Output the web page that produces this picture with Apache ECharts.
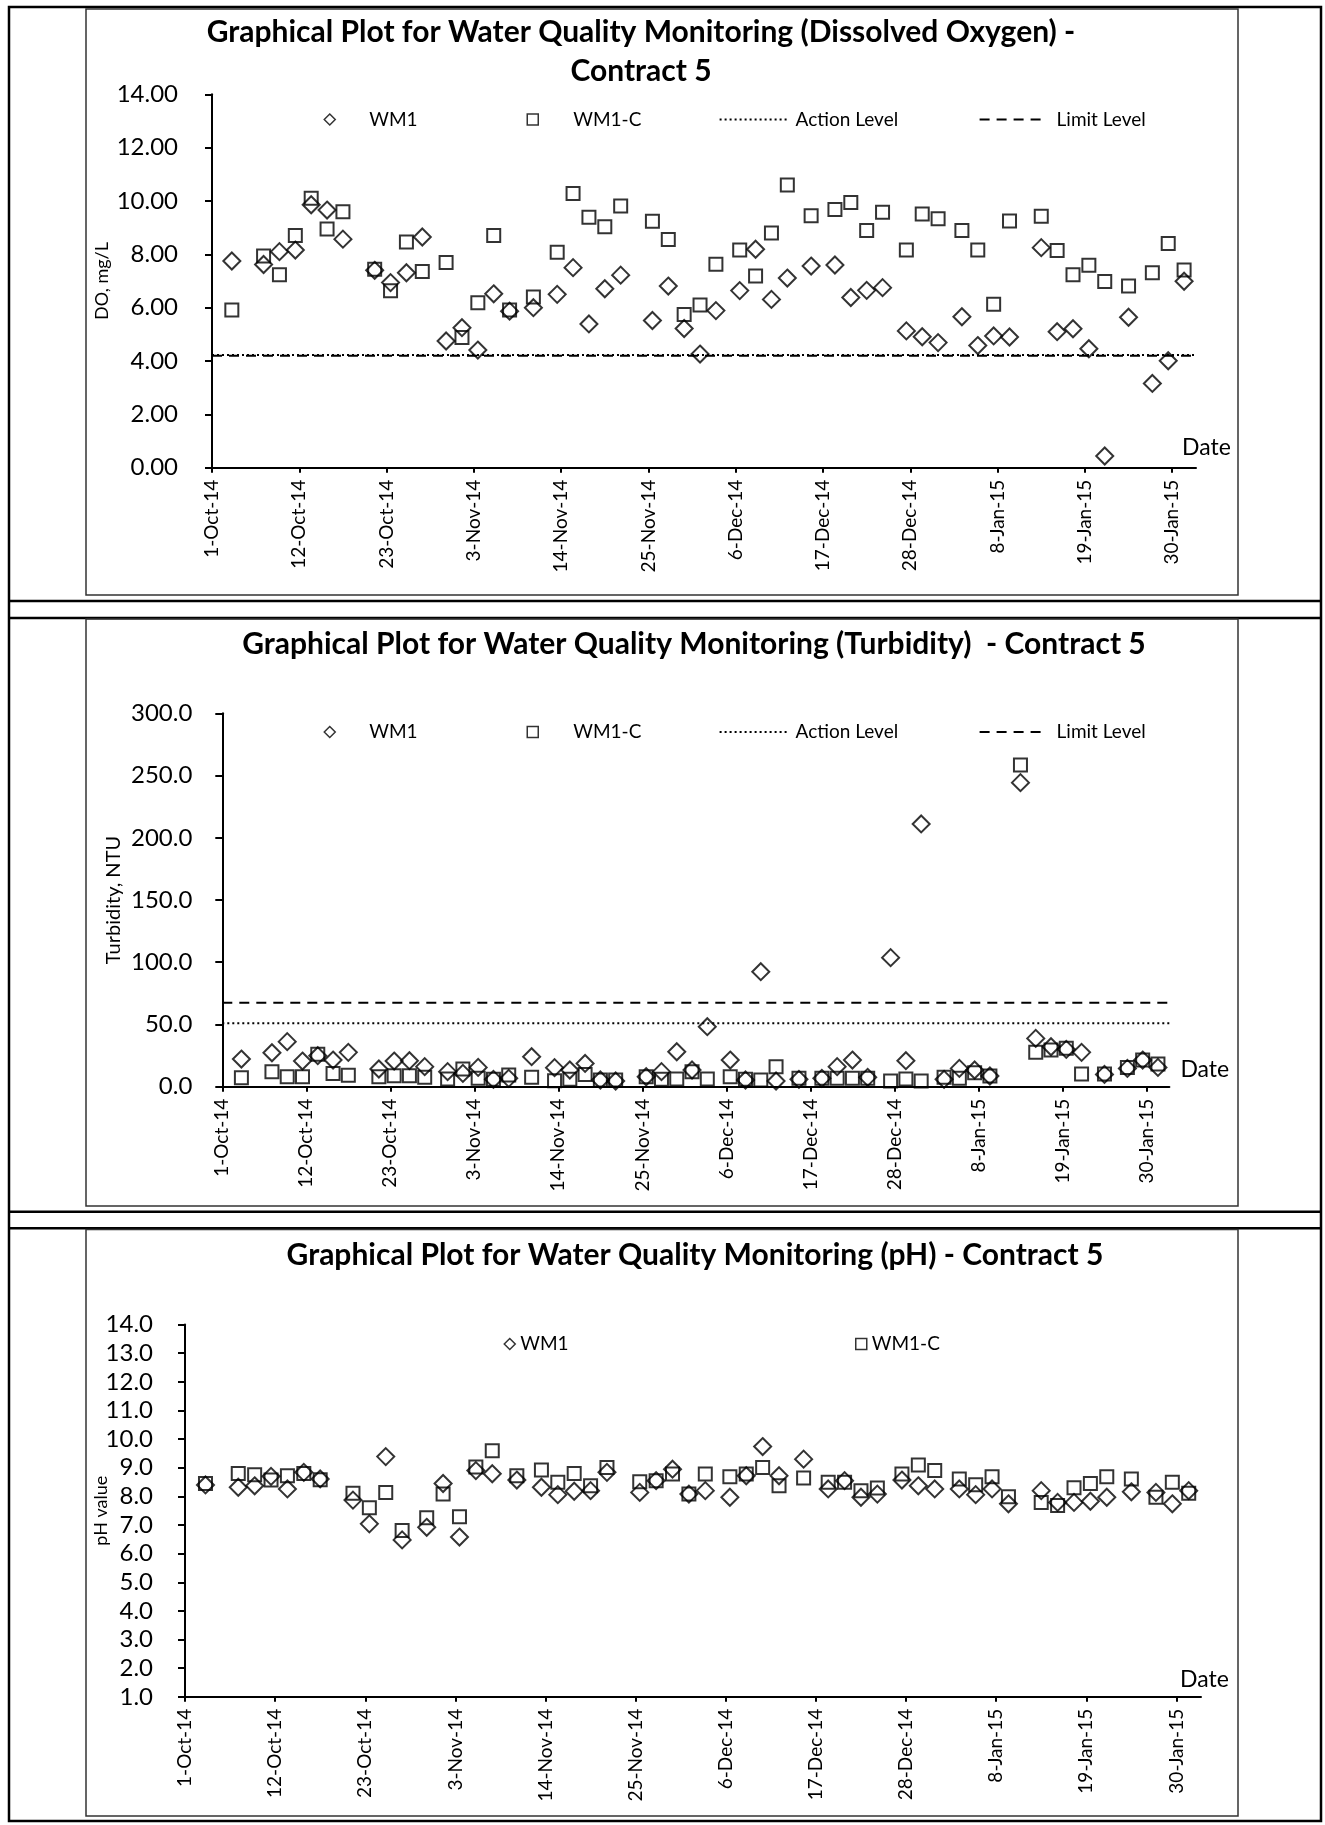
<!DOCTYPE html>
<html>
<head>
<meta charset="utf-8">
<script src="https://cdn.jsdelivr.net/npm/echarts@6/dist/echarts.min.js"></script>
<style>
html,body{margin:0;padding:0;background:#fff;}
#chart{width:1325px;height:1825px;}
</style>
</head>
<body>
<div id="chart"></div>
<script>
// ---------------- DATA ----------------
const sampleDates = ['2014-10-03','2014-10-07','2014-10-09','2014-10-11','2014-10-13','2014-10-15','2014-10-17','2014-10-21','2014-10-23','2014-10-25','2014-10-27','2014-10-30','2014-11-01','2014-11-03','2014-11-05','2014-11-07','2014-11-10','2014-11-13','2014-11-15','2014-11-17','2014-11-19','2014-11-21','2014-11-25','2014-11-27','2014-11-29','2014-12-01','2014-12-03','2014-12-06','2014-12-08','2014-12-10','2014-12-12','2014-12-15','2014-12-18','2014-12-20','2014-12-22','2014-12-24','2014-12-27','2014-12-29','2014-12-31','2015-01-03','2015-01-05','2015-01-07','2015-01-09','2015-01-13','2015-01-15','2015-01-17','2015-01-19','2015-01-21','2015-01-24','2015-01-27','2015-01-29','2015-01-31'];

const doWM1  = [7.75,7.62,8.10,8.16,9.86,9.66,8.57,7.40,6.94,7.31,8.65,4.75,5.25,4.41,6.52,5.87,6.00,6.50,7.50,5.39,6.71,7.22,5.52,6.81,5.22,4.26,5.89,6.64,8.19,6.31,7.11,7.56,7.60,6.38,6.65,6.75,5.13,4.91,4.69,5.66,4.58,4.94,4.90,8.25,5.10,5.21,4.46,0.44,5.64,3.16,4.01,6.99];
const doWM1C = [5.91,7.94,7.23,8.71,10.10,8.95,9.60,7.44,6.63,8.46,7.36,7.69,4.88,6.18,8.71,5.91,6.40,8.08,10.28,9.39,9.03,9.81,9.24,8.56,5.74,6.10,7.63,8.16,7.19,8.80,10.60,9.45,9.68,9.94,8.89,9.58,8.16,9.51,9.33,8.89,8.16,6.13,9.25,9.43,8.14,7.23,7.59,6.98,6.81,7.31,8.41,7.41];
const doActionLevel = 4.23;
const doLimitLevel  = 4.20;

const turbWM1  = [22.2,27.3,36.2,20.6,24.9,21.4,27.6,14.2,20.6,20.9,16.1,12.1,10.7,15.5,5.9,6.7,24.1,15.3,13.4,18.7,5.4,4.6,8.0,12.1,28.1,13.4,48.2,21.4,5.4,92.4,4.6,5.9,6.7,16.1,21.4,7.5,103.7,20.9,211.1,5.9,14.7,13.4,8.6,244.3,38.8,32.1,30.0,27.6,9.9,14.7,21.4,15.5];
const turbWM1C = [7.2,12.1,8.0,8.0,26.0,10.7,9.1,8.0,8.8,8.8,7.5,6.2,14.2,6.7,5.9,9.4,7.5,4.8,5.9,9.9,5.4,5.4,8.0,5.9,6.2,12.1,6.2,8.0,5.9,5.4,16.1,6.7,6.7,6.7,6.7,6.7,4.6,6.2,4.6,7.5,6.7,11.3,8.6,258.5,27.6,29.5,30.8,10.2,10.2,15.5,21.4,18.2];
const turbActionLevel = 51.0;
const turbLimitLevel  = 67.5;

const phWM1  = [8.40,8.32,8.37,8.70,8.26,8.84,8.61,7.87,7.04,9.39,6.48,6.92,8.45,6.58,8.90,8.79,8.57,8.32,8.06,8.18,8.20,8.84,8.14,8.55,8.95,8.08,8.20,7.97,8.72,9.74,8.72,9.30,8.26,8.55,7.97,8.08,8.57,8.37,8.26,8.26,8.06,8.26,7.74,8.20,7.79,7.79,7.83,7.97,8.16,8.14,7.74,8.20];
const phWM1C = [8.45,8.80,8.76,8.57,8.72,8.80,8.58,8.11,7.60,8.14,6.81,7.25,8.08,7.29,9.03,9.59,8.72,8.92,8.49,8.80,8.37,9.01,8.51,8.55,8.78,8.08,8.78,8.69,8.78,9.01,8.37,8.64,8.49,8.49,8.20,8.29,8.78,9.10,8.90,8.61,8.41,8.69,7.99,7.79,7.68,8.30,8.45,8.69,8.61,7.97,8.49,8.11];

const tickDates = ['2014-10-01','2014-10-12','2014-10-23','2014-11-03','2014-11-14','2014-11-25','2014-12-06','2014-12-17','2014-12-28','2015-01-08','2015-01-19','2015-01-30'];
const axisStartDate = '2014-10-01';
const axisEndDate   = '2015-02-02';

const titles = [
  'Graphical Plot for Water Quality Monitoring (Dissolved Oxygen) -\nContract 5',
  'Graphical Plot for Water Quality Monitoring (Turbidity)  - Contract 5',
  'Graphical Plot for Water Quality Monitoring (pH) - Contract 5'
];
const yNames = ['DO, mg/L', 'Turbidity, NTU', 'pH value'];

// ---------------- HELPERS ----------------
const MON = ['Jan','Feb','Mar','Apr','May','Jun','Jul','Aug','Sep','Oct','Nov','Dec'];
const BASE = Date.UTC(2014, 9, 1);
function dayOf(s){ const p = s.split('-').map(Number); return (Date.UTC(p[0], p[1]-1, p[2]) - BASE) / 86400000; }
function fmtDay(v){ const d = new Date(BASE + Math.round(v) * 86400000); return d.getUTCDate() + '-' + MON[d.getUTCMonth()] + '-' + String(d.getUTCFullYear()).slice(2); }
// points sit in the middle of their day (date axis, "between tick marks")
const DAY_CENTER = 0.5;
const xs = sampleDates.map(d => dayOf(d) + DAY_CENTER);
const tickDays = tickDates.map(dayOf);
const xMin = dayOf(axisStartDate), xMax = dayOf(axisEndDate);
const pts = vals => vals.map((v, i) => [xs[i], v]);
const FONT = 'Lato';

const grids = [
  {left: 212,   top: 94.3,  width: 984,  height: 373.4},
  {left: 222.3, top: 713.3, width: 947.1, height: 373.4},
  {left: 185,   top: 1324.6, width: 1016, height: 372.2}
];
const yCfg = [
  {min: 0, max: 14,  interval: 2,  dec: 2, margin: 34, nameGap: 101, nameSize: 18},
  {min: 0, max: 300, interval: 50, dec: 1, margin: 30, nameGap: 99,  nameSize: 20},
  {min: 1, max: 14,  interval: 1,  dec: 1, margin: 32, nameGap: 75,  nameSize: 18}
];
const dateName = [{gap: -14, pad: 9}, {gap: 11, pad: 6}, {gap: -21, pad: 6}];

const xAxes = grids.map((g, i) => ({
  type: 'value', gridIndex: i, min: xMin, max: xMax,
  name: 'Date', nameLocation: 'end', nameGap: dateName[i].gap, nameMoveOverlap: false,
  nameTextStyle: {fontFamily: FONT, fontSize: 23, color: '#000', align: 'left', verticalAlign: 'bottom', padding: [0,0,dateName[i].pad,0]},
  axisLine: {show: true, onZero: false, lineStyle: {color: '#000', width: 2}},
  axisTick: {show: true, length: 5, customValues: tickDays, lineStyle: {color: '#000', width: 2}},
  axisLabel: {rotate: 90, margin: 12, customValues: tickDays, formatter: fmtDay, fontFamily: FONT, fontSize: 19, color: '#000'},
  splitLine: {show: false}
}));
const yAxes = yCfg.map((c, i) => ({
  type: 'value', gridIndex: i, min: c.min, max: c.max, interval: c.interval,
  name: yNames[i], nameLocation: 'middle', nameRotate: 90, nameGap: c.nameGap, nameMoveOverlap: false,
  nameTextStyle: {fontFamily: FONT, fontSize: c.nameSize, color: '#000'},
  axisLine: {show: true, onZero: false, lineStyle: {color: '#000', width: 2}},
  axisTick: {show: true, length: 7, lineStyle: {color: '#000', width: 2}},
  axisLabel: {margin: c.margin, formatter: v => v.toFixed(c.dec), fontFamily: FONT, fontSize: 24, color: '#000'},
  splitLine: {show: false}
}));

const markerStyle = {color: 'transparent', borderColor: '#000', borderWidth: 2};
function scatter(name, idx, vals, sym, size){
  return {type: 'scatter', name, xAxisIndex: idx, yAxisIndex: idx, data: pts(vals),
    symbol: sym, symbolSize: size, itemStyle: markerStyle, z: 3};
}
function level(name, idx, val, dash){
  return {type: 'line', name, xAxisIndex: idx, yAxisIndex: idx, data: [[xMin, val], [xMax, val]],
    symbol: 'none', lineStyle: {color: '#000', width: 2, type: dash}, z: 2, silent: true};
}
const DOT = [2, 3], DASH = [10, 7];

const series = [
  level('Action Level', 0, doActionLevel, DOT),
  level('Limit Level', 0, doLimitLevel, DASH),
  scatter('WM1', 0, doWM1, 'diamond', 17),
  scatter('WM1-C', 0, doWM1C, 'rect', 13),
  level('Action Level', 1, turbActionLevel, DOT),
  level('Limit Level', 1, turbLimitLevel, DASH),
  scatter('WM1', 1, turbWM1, 'diamond', 17),
  scatter('WM1-C', 1, turbWM1C, 'rect', 13),
  scatter('WM1', 2, phWM1, 'diamond', 17),
  scatter('WM1-C', 2, phWM1C, 'rect', 13)
];

function lg(name, icon, left, top, w, h, padLeft){
  const o = {data: [icon ? {name, icon} : name], left, top, itemWidth: w, itemHeight: h, itemGap: 0,
    selectedMode: false, padding: 0,
    textStyle: {fontFamily: FONT, fontSize: 19, color: '#000', padding: [0,0,0,padLeft]}};
  if (icon) {
    o.itemStyle = {color: 'transparent', borderColor: '#000', borderWidth: 1.5};
  } else {
    o.itemStyle = {color: 'transparent', borderColor: 'transparent', borderWidth: 0, opacity: 0};
    o.lineStyle = {color: '#000', width: 2, type: name === 'Action Level' ? DOT : DASH};
  }
  return o;
}
const legendRows = [115.5, 728];
const legends = [];
legendRows.forEach(cy => {
  legends.push(lg('WM1', 'diamond', 323.5, cy - 5.5, 11, 11, 29));
  legends.push(lg('WM1-C', 'rect', 526.5, cy - 5.5, 11, 11, 30));
  legends.push(lg('Action Level', null, 718.6, cy - 5.5, 68, 11, 3));
  legends.push(lg('Limit Level', null, 978.6, cy - 5.5, 64, 11, 8));
});
legends.push(lg('WM1', 'diamond', 503.5, 1340 - 5.5, 11, 11, 0));
legends.push(lg('WM1-C', 'rect', 855, 1340 - 5.5, 11, 11, 0));

// frames and titles
const SEP = {stroke: '#000', lineWidth: 2.5};
const FR = {fill: 'none', stroke: '#333', lineWidth: 1.5};
const TF = 'bold 30px Lato';
const graphic = [
  {type: 'rect', shape: {x: 9, y: 7, width: 1312, height: 1814}, style: {fill: 'none', stroke: '#000', lineWidth: 2.5}, silent: true},
  {type: 'line', shape: {x1: 9, y1: 601, x2: 1321, y2: 601}, style: SEP, silent: true},
  {type: 'line', shape: {x1: 9, y1: 618, x2: 1321, y2: 618}, style: SEP, silent: true},
  {type: 'line', shape: {x1: 9, y1: 1211.7, x2: 1321, y2: 1211.7}, style: SEP, silent: true},
  {type: 'line', shape: {x1: 9, y1: 1228.3, x2: 1321, y2: 1228.3}, style: SEP, silent: true},
  {type: 'rect', shape: {x: 86, y: 9, width: 1152, height: 586}, style: FR, silent: true},
  {type: 'rect', shape: {x: 86, y: 619, width: 1152, height: 587}, style: FR, silent: true},
  {type: 'rect', shape: {x: 86, y: 1229.5, width: 1152, height: 586.5}, style: FR, silent: true},
  {type: 'text', x: 641, y: 52, style: {text: titles[0], font: TF, fill: '#000', align: 'center', verticalAlign: 'middle', lineHeight: 38.4}, silent: true},
  {type: 'text', x: 694, y: 644, style: {text: titles[1], font: TF, fill: '#000', align: 'center', verticalAlign: 'middle'}, silent: true},
  {type: 'text', x: 695, y: 1255, style: {text: titles[2], font: TF, fill: '#000', align: 'center', verticalAlign: 'middle'}, silent: true}
];

const chart = echarts.init(document.getElementById('chart'), null, {renderer: 'canvas'});
chart.setOption({
  animation: false,
  backgroundColor: '#fff',
  grid: grids,
  xAxis: xAxes,
  yAxis: yAxes,
  legend: legends,
  series,
  graphic
});
</script>
</body>
</html>
